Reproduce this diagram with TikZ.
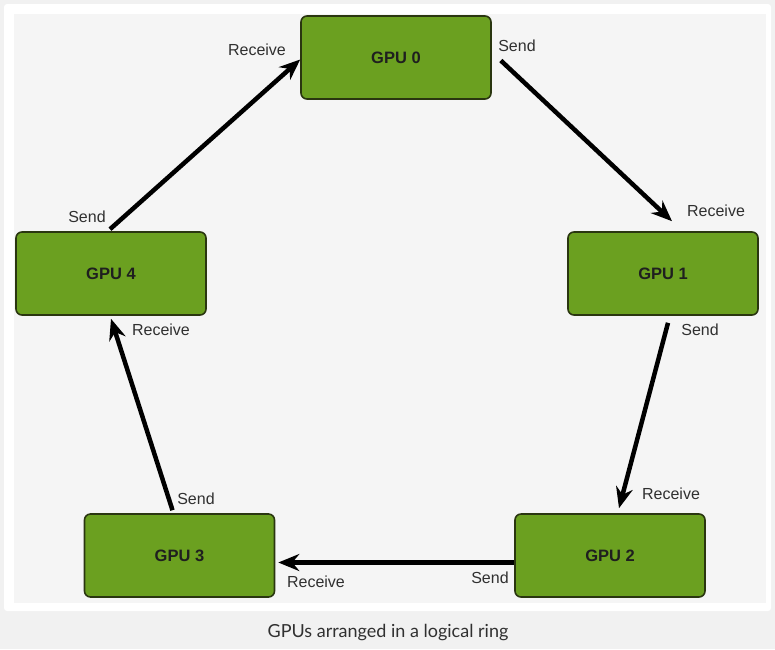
\documentclass[tikz,border=0pt]{standalone}
\usepackage{fontspec}
\setmainfont{Liberation Sans}
\newfontfamily\capfont{Lato}
\usetikzlibrary{positioning,arrows.meta,calc}
\definecolor{gpugreen}{HTML}{6BA020}
\definecolor{gpuedge}{HTML}{2A3610}
\definecolor{panelgray}{HTML}{F5F5F5}
\definecolor{pagegray}{HTML}{F1F1F1}
\definecolor{labelgray}{HTML}{303030}
\tikzset{
  gpu/.style={draw=gpuedge,line width=1.6pt,fill=gpugreen,rounded corners=6pt,
    minimum width=190pt,minimum height=83pt,text=black!88,
    font=\bfseries\fontsize{16.5}{19}\selectfont},
  lbl/.style={font=\fontsize{16}{19}\selectfont,text=labelgray,inner sep=0pt},
  ring/.style={line width=4.5pt,-{Stealth[length=21pt,width=17pt,inset=7pt]}}
}
\begin{document}
\begin{tikzpicture}[x=1pt,y=-1pt]
\useasboundingbox (0,0) rectangle (775,649);
% page, card and panel
\fill[pagegray] (0,0) rectangle (775,649);
\fill[white,rounded corners=3pt] (4,4) rectangle (771,611);
\fill[panelgray] (14,14) rectangle (766,603);

% the five GPUs
\node[gpu] (g0) at (396,57.5) {GPU 0};
\node[gpu] (g1) at (663,273.5) {GPU 1};
\node[gpu] (g2) at (610,555.5) {GPU 2};
\node[gpu] (g3) at (179.5,555.5) {GPU 3};
\node[gpu] (g4) at (111,273.5) {GPU 4};

% ring
\draw[ring] ([shift={(9,3)}]g0.east) -- ([shift={(9,-10)}]g1.north);
\draw[ring] ([shift={(5,7)}]g1.south) -- ([shift={(9,-5)}]g2.north);
\draw[ring] ([shift={(0,7)}]g2.west) -- ([shift={(3,7)}]g3.east);
\draw[ring] ([shift={(-7,-3)}]g3.north) -- ([shift={(0,3)}]g4.south);
\draw[ring] ([shift={(-1,-2)}]g4.north) -- ([shift={(0,2)}]g0.west);

% send / receive labels
\node[lbl] (s0) at (517,46) {Send};
\node[lbl] (r1) at (716,211) {Receive};
\node[lbl] (s1) at (700,330) {Send};
\node[lbl] (r2) at (671,494) {Receive};
\node[lbl] (s2) at (490,578) {Send};
\node[lbl] (r3) at (316,582) {Receive};
\node[lbl] (s3) at (196,499) {Send};
\node[lbl] (r4) at (161,330) {Receive};
\node[lbl] (s4) at (87,217) {Send};
\node[lbl] (r0) at (257,50) {Receive};

\node[font=\capfont\fontsize{18}{21}\selectfont,text=labelgray] (cap) at (388,632)
  {GPUs arranged in a logical ring};
\end{tikzpicture}
\end{document}
